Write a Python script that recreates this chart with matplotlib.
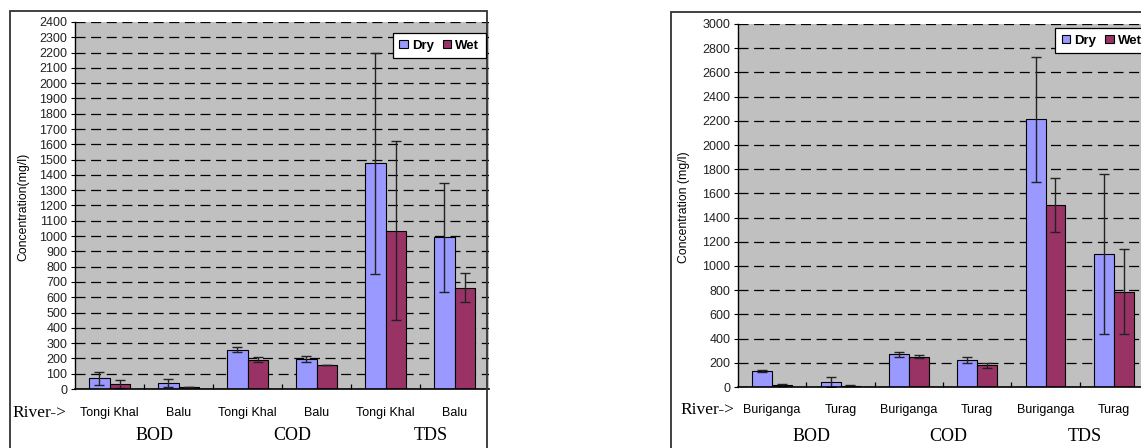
import numpy as np
import matplotlib.pyplot as plt
from matplotlib.patches import Rectangle, Patch

# data
params = ['BOD', 'COD', 'TDS']
left_rivers = ['Tongi Khal', 'Balu']
left_dry = [69, 37, 258, 196, 1475, 993]
left_dry_err = [40, 27, 15, 17, 720, 356]
left_wet = [33, 13, 192, 157, 1034, 661]
left_wet_err = [28, 3, 16, 3, 585, 95]

right_rivers = ['Buriganga', 'Turag']
right_dry = [133, 42, 269, 222, 2212, 1099]
right_dry_err = [10, 40, 17, 25, 515, 658]
right_wet = [17, 10, 252, 180, 1507, 788]
right_wet_err = [5, 3, 15, 21, 223, 350]

dry_col = '#9999FF'
wet_col = '#993366'
bg_col = '#C0C0C0'

W, H = 1141, 448
fig = plt.figure(figsize=(W / 100, H / 100), dpi=100)
plt.rcParams['font.family'] = 'Liberation Sans'


def px_axes(l, t, r, b):
    return fig.add_axes([l / W, 1 - b / H, (r - l) / W, (b - t) / H])


def panel(ax, rivers, dry, dry_err, wet, wet_err, ymax, ystep, lab_y, grp_y, grp_off):
    n = len(dry)
    x = np.arange(n) + 0.5
    bw = 0.29
    ax.set_facecolor(bg_col)
    ax.set_xlim(0, n)
    ax.set_ylim(0, ymax)
    ax.set_yticks(np.arange(0, ymax + 1, ystep))
    ax.yaxis.grid(True, color='black', lw=0.9, linestyle=(0, (8, 4.5)))
    ax.set_axisbelow(True)
    ek = dict(ecolor='#222222', elinewidth=1.0, capsize=3.5, capthick=1.0)
    ax.bar(x - bw / 2, dry, bw, color=dry_col, edgecolor='black', lw=0.8,
           yerr=dry_err, error_kw=ek, zorder=2)
    ax.bar(x + bw / 2, wet, bw, color=wet_col, edgecolor='black', lw=0.8,
           yerr=wet_err, error_kw=ek, zorder=2)
    for s in ['top', 'right']:
        ax.spines[s].set_visible(False)
    ax.spines['left'].set_linewidth(1.0)
    ax.spines['bottom'].set_linewidth(1.2)
    ax.set_xticks(np.arange(1, n))
    ax.set_xticklabels([])
    ax.tick_params(axis='x', direction='in', length=3.6, width=0.9)
    ax.tick_params(axis='y', direction='out', length=3, width=0.8, pad=2.5,
                   labelsize=9, labelcolor='#222222')
    trans = ax.get_xaxis_transform()
    for i in range(n):
        ax.text(x[i], lab_y, rivers[i % 2], transform=trans, ha='center',
                va='center', fontsize=9)
    for j, p in enumerate(params):
        ax.text(2 * j + 1 + grp_off, grp_y, p, transform=trans, ha='center',
                va='center', fontsize=13, family='Liberation Serif')
    handles = [Patch(facecolor=dry_col, edgecolor='black', lw=0.8),
               Patch(facecolor=wet_col, edgecolor='black', lw=0.8)]
    return handles


# left panel
axL = px_axes(75, 22, 489, 389)
hL = panel(axL, left_rivers, left_dry, left_dry_err, left_wet, left_wet_err,
           2400, 100, (389 - 413) / 367, (389 - 435) / 367, 0.15)
# right panel (runs off the edge of the image)
axR = px_axes(738, 24, 1148, 387)
hR = panel(axR, right_rivers, right_dry, right_dry_err, right_wet, right_wet_err,
           3000, 200, (387 - 410) / 363, (387 - 436) / 363, 0.07)

for h, x0, y0, loc in [(hL, 486, 33, 'upper right'), (hR, 1055, 28, 'upper left')]:
    leg = fig.legend(h, ['Dry', 'Wet'], loc=loc,
                     bbox_to_anchor=(x0 / W, 1 - y0 / H), ncol=2,
                     prop={'weight': 'bold', 'size': 9.5}, handlelength=0.65,
                     handleheight=0.65, handletextpad=0.3, columnspacing=0.7,
                     borderpad=0.5, borderaxespad=0, fancybox=False,
                     framealpha=1, edgecolor='black')
    leg.get_frame().set_linewidth(0.9)

# outer chart frames
fig.add_artist(Rectangle((10 / W, -0.1), (487 - 10) / W, 1.1 - 11 / H,
                         transform=fig.transFigure, fill=False,
                         edgecolor='#333333', lw=1.3, zorder=5))
fig.add_artist(Rectangle((671 / W, -0.1), 0.5, 1.1 - 12 / H,
                         transform=fig.transFigure, fill=False,
                         edgecolor='#333333', lw=1.3, zorder=5))

fig.text(66 / W, 1 - 413 / H, 'River->', ha='right', va='center',
         fontsize=12.5, family='Liberation Serif')
fig.text(734 / W, 1 - 410 / H, 'River->', ha='right', va='center',
         fontsize=12.5, family='Liberation Serif')
fig.text(23 / W, 1 - 207 / H, 'Concentration(mg/l)', rotation=90,
         ha='center', va='center', fontsize=8.8)
fig.text(684 / W, 1 - 207 / H, 'Concentration (mg/l)', rotation=90,
         ha='center', va='center', fontsize=8.8)

fig.savefig('out.png', dpi=100)
